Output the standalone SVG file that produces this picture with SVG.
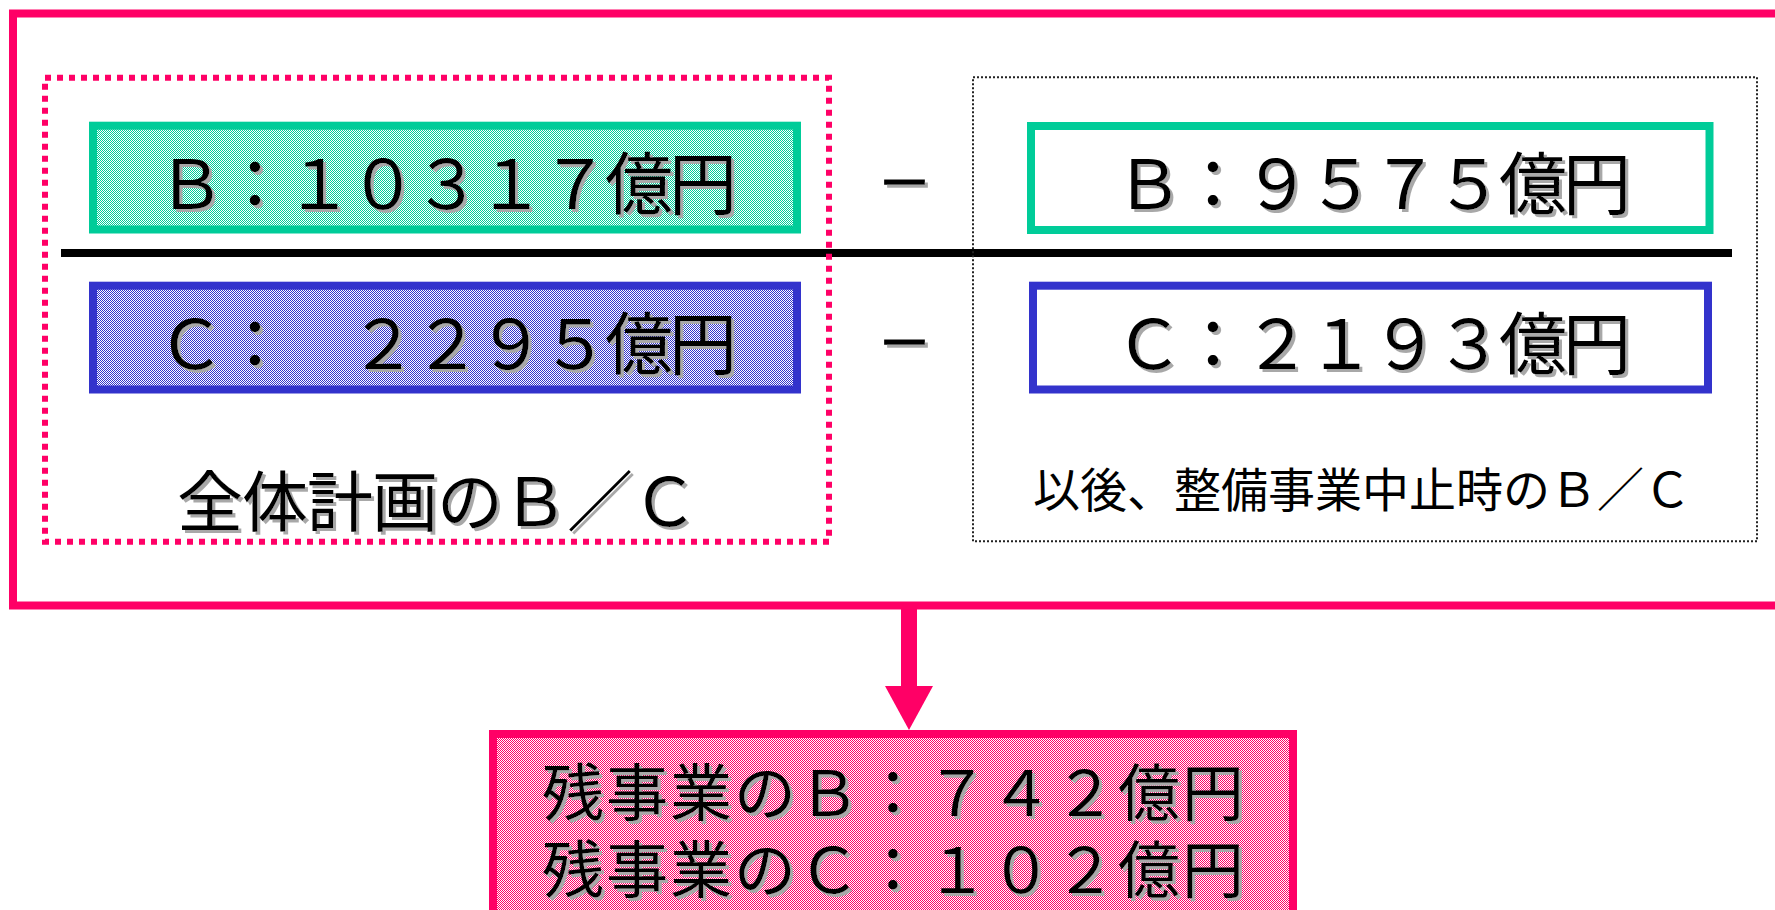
<svg xmlns="http://www.w3.org/2000/svg" width="1775" height="910" viewBox="0 0 1775 910">
<defs>
<pattern id="pg" width="2" height="2" patternUnits="userSpaceOnUse"><rect width="2" height="2" fill="#ffffff"/><rect width="1" height="1" fill="#00CC99"/><rect x="1" y="1" width="1" height="1" fill="#00CC99"/></pattern>
<pattern id="pb" width="2" height="2" patternUnits="userSpaceOnUse"><rect width="2" height="2" fill="#ffffff"/><rect width="1" height="1" fill="#3333CC"/><rect x="1" y="1" width="1" height="1" fill="#3333CC"/></pattern>
<pattern id="pp" width="2" height="2" patternUnits="userSpaceOnUse"><rect width="2" height="2" fill="#ffffff"/><rect width="1" height="1" fill="#FF0066"/><rect x="1" y="1" width="1" height="1" fill="#FF0066"/></pattern>
<filter id="sh" x="-5%" y="-20%" width="110%" height="140%">
<feOffset in="SourceAlpha" dx="2.5" dy="2.5" result="o"/>
<feFlood flood-color="#a8a8a8"/>
<feComposite in2="o" operator="in" result="s"/>
<feMerge><feMergeNode in="s"/><feMergeNode in="SourceGraphic"/></feMerge>
</filter>
<marker id="ah" markerUnits="userSpaceOnUse" markerWidth="44" markerHeight="48" viewBox="0 0 44 48" refX="0" refY="24" orient="auto">
<path d="M0,0 L44,24 L0,48 z" fill="#FF0066"/>
</marker>
</defs>
<style>
.t{font-family:"Liberation Sans","Noto Sans CJK JP",sans-serif;fill:#000;}
.big{font-size:68px;letter-spacing:-4px;text-anchor:middle;}
.lbl{font-size:66px;letter-spacing:-1px;text-anchor:middle;}
.lbl2{font-size:47px;text-anchor:middle;}
.bot{font-size:62px;letter-spacing:2px;text-anchor:middle;}
.minus{font-size:54px;text-anchor:middle;stroke:#000;stroke-width:1.5;}
.g{stroke:#00CC99;stroke-width:8;}
.b{stroke:#3333CC;stroke-width:8;}
.p{stroke:#FF0066;stroke-width:8;}
</style>

<g id="outer-frame">
<rect x="13" y="13.5" width="1800" height="592" fill="#ffffff" class="p"/>
</g>

<g id="divider">
<line x1="61" y1="253" x2="1732" y2="253" stroke="#000" stroke-width="8"/>
</g>

<g id="total-plan">
<rect x="45" y="77.7" width="784" height="464" fill="none" stroke="#FF0066" stroke-width="6" stroke-dasharray="6 6"/>
<text class="t lbl" x="437" y="526" filter="url(#sh)">全体計画のＢ／Ｃ</text>
</g>

<g id="stop-case">
<rect x="973" y="77.3" width="784" height="464" fill="none" stroke="#222" stroke-width="2" stroke-dasharray="2 2"/>
<text class="t lbl2" x="1362" y="507">以後、整備事業中止時のＢ／Ｃ</text>
</g>

<g id="total-B">
<rect x="93" y="125.7" width="704" height="103.8" fill="url(#pg)" class="g"/>
<text class="t big" x="445" y="209" filter="url(#sh)">Ｂ：１０３１７億円</text>
</g>

<g id="total-C">
<rect x="93" y="285.7" width="704" height="103.8" fill="url(#pb)" class="b"/>
<text class="t big" x="445" y="369" filter="url(#sh)">Ｃ：　２２９５億円</text>
</g>

<g id="minus-B">
<text class="t minus" x="904.5" y="203" filter="url(#sh)">－</text>
</g>
<g id="minus-C">
<text class="t minus" x="904.5" y="363" filter="url(#sh)">－</text>
</g>

<g id="stop-B">
<rect x="1031" y="126" width="678.5" height="104" fill="#ffffff" class="g"/>
<text class="t big" x="1371" y="209" filter="url(#sh)">Ｂ：９５７５億円</text>
</g>

<g id="stop-C">
<rect x="1033" y="285.7" width="675" height="103.8" fill="#ffffff" class="b"/>
<text class="t big" x="1371" y="369" filter="url(#sh)">Ｃ：２１９３億円</text>
</g>

<g id="connectors">
<line x1="909" y1="606" x2="909" y2="686" stroke="#FF0066" stroke-width="16" marker-end="url(#ah)"/>
</g>

<g id="remaining">
<rect x="493" y="734" width="800" height="240" fill="url(#pp)" class="p"/>
<text class="t bot" x="894" y="816" filter="url(#sh)">残事業のＢ：７４２億円</text>
<text class="t bot" x="894" y="893" filter="url(#sh)">残事業のＣ：１０２億円</text>
</g>
</svg>
